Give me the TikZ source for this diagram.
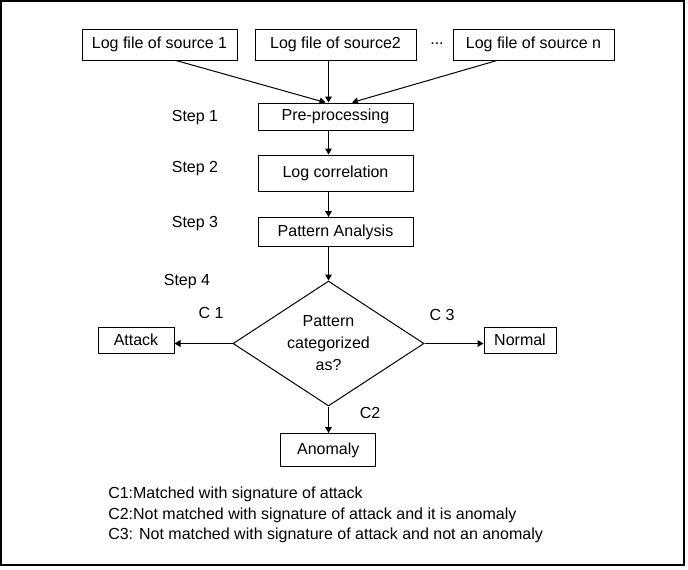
\documentclass[tikz,border=0pt]{standalone}
\usepackage{fontspec}
\setmainfont{Liberation Sans}
\usepackage{tikz}
\usetikzlibrary{shapes.geometric,arrows.meta,calc}

\tikzset{
    box/.style={draw, line width=0.75pt, inner sep=0pt, minimum height=20.25pt, align=center},
    decision/.style={draw, diamond, shape aspect=1.53, line width=0.75pt, inner sep=0pt, align=center,
        minimum width=143.25pt, minimum height=93.75pt, font=\fontsize{12}{16.5}\selectfont},
    arr/.style={-{Triangle[length=4.5pt,width=5pt]}, line width=0.75pt},
    lbl/.style={inner sep=0pt}
}

\begin{document}
\begin{tikzpicture}[x=0.75pt, y=-0.75pt, font=\fontsize{12}{14}\selectfont]
    \useasboundingbox (0,0) rectangle (688,569);
    \draw[line width=1.1pt] (1,1) rectangle (684,565);

    % Sources
    \node[box, minimum width=116.25pt, minimum height=23.25pt] (src1) at (159.5,44.5) {Log file of source 1};
    \node[box, minimum width=120.75pt, minimum height=23.25pt] (src2) at (335.5,44.5) {Log file of source2};
    \node[box, minimum width=120.75pt, minimum height=23.25pt] (srcn) at (533.5,44.5) {Log file of source n};
    \node[lbl] (dots) at (437,44) {...};

    % Steps
    \node[box, minimum width=116.25pt] (pre) at (335.5,116.5) {Pre-processing};
    \node[box, minimum width=116.25pt, minimum height=27pt] (corr) at (335.5,173) {Log correlation};
    \node[box, minimum width=116.25pt, minimum height=21.75pt] (pat) at (335.5,232) {Pattern Analysis};
    \node[decision] (dia) at (328.5,343.5) {Pattern\\categorized\\as?};

    \node[lbl] (s1) at (195,118) {Step 1};
    \node[lbl] (s2) at (195,169) {Step 2};
    \node[lbl] (s3) at (195,224) {Step 3};
    \node[lbl] (s4) at (187,282) {Step 4};

    % Outcomes
    \node[box, minimum width=57pt, minimum height=19.5pt] (att) at (136,340) {Attack};
    \node[box, minimum width=54pt, minimum height=19.5pt] (nor) at (520,340) {Normal};
    \node[box, minimum width=71.25pt, minimum height=24.75pt] (ano) at (328.3,450) {Anomaly};

    \node[lbl] (c1) at (211,313) {C 1};
    \node[lbl] (c3) at (442,315) {C 3};
    \node[lbl] (c2) at (370,413) {C2};

    % Arrows
    \draw[arr] ([xshift=12.4pt]src1.south) -- ([xshift=-7.5pt]pre.north);
    \draw[arr] (src2.south -| dia.north) -- (pre.north -| dia.north);
    \draw[arr] ([xshift=-27.4pt]srcn.south) -- ([xshift=12.4pt]pre.north);
    \draw[arr] (pre.south -| dia.north) -- (corr.north -| dia.north);
    \draw[arr] (corr.south -| dia.north) -- (pat.north -| dia.north);
    \draw[arr] (pat.south -| dia.north) -- (dia.north);
    \draw[arr] (dia.west) -- (dia.west -| att.east);
    \draw[arr] (dia.east) -- (dia.east -| nor.west);
    \draw[arr] (dia.south) -- (dia.south |- ano.north);

    % Legend
    \node[lbl, anchor=west, align=left, font=\fontsize{12}{15.5}\selectfont] (legend) at (108,515)
        {C1:Matched with signature of attack\\
         C2:Not matched with signature of attack and it is anomaly\\
         C3: Not matched with signature of attack and not an anomaly};
\end{tikzpicture}
\end{document}
